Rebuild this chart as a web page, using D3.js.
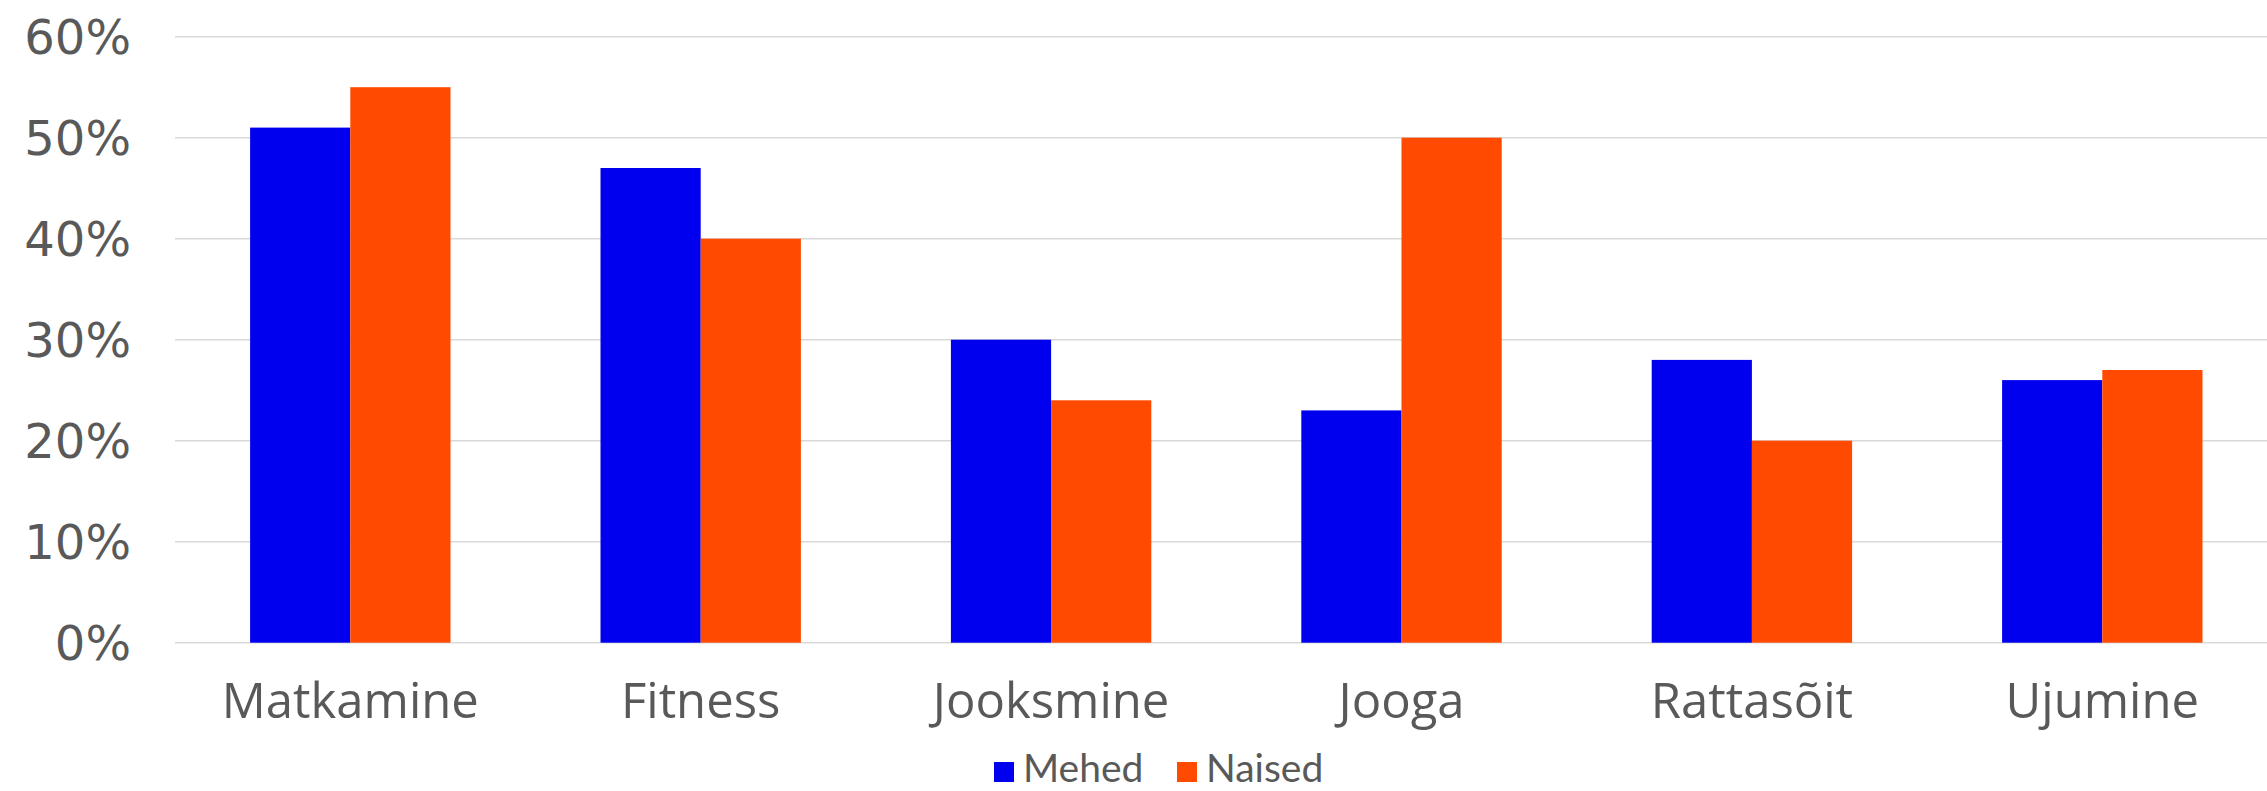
<!DOCTYPE html>
<html><head><meta charset="utf-8">
<script src="https://cdn.jsdelivr.net/npm/d3@7"></script>
<style>html,body{margin:0;padding:0;background:#fff;}svg{display:block;}</style>
</head><body>
<script>
const categories = ["Matkamine","Fitness","Jooksmine","Jooga","Rattasõit","Ujumine"];
const seriesNames = ["Mehed","Naised"];
const mehed = [51,47,30,23,28,26];
const naised = [55,40,24,50,20,27];
const yTicks = [0,10,20,30,40,50,60];
const colors = ["#0000EE","#FF4A00"];

const W = 2267, H = 791;
const svg = d3.select("body").append("svg").attr("width",W).attr("height",H);
const left = 175.1, step = 350.4;
const x = d3.scaleBand().domain(categories).range([left, left + step*categories.length]).paddingInner(0).paddingOuter(0);
const y = d3.scaleLinear().domain([0,60]).range([642.7,36.7]);
const inner = d3.scaleBand().domain(seriesNames).range([0,200.4]);

// grid
svg.append("g").selectAll("line").data(yTicks).join("line")
  .attr("x1",left).attr("x2",W+20)
  .attr("y1",d=>y(d)).attr("y2",d=>y(d))
  .attr("stroke","#d9d9d9").attr("stroke-width",1.5);

// y labels
const yAxis = d3.axisLeft(y).tickValues(yTicks).tickFormat(d=>d+"%").tickSize(0).tickPadding(0);
const ya = svg.append("g").attr("transform","translate(131,0)").call(yAxis);
ya.select(".domain").remove();
ya.selectAll("text").attr("font-family","'DejaVu Sans', sans-serif").attr("font-size",48).attr("fill","#595959").attr("dy","0.36em");

const data = [mehed, naised];
const groups = svg.append("g").selectAll("g").data(categories).join("g")
  .attr("transform",d=>`translate(${x(d)+x.bandwidth()/2-100.2},0)`);
groups.selectAll("rect").data((c,i)=>seriesNames.map((s,j)=>({s,v:data[j][i],j})))
  .join("rect")
  .attr("x",d=>inner(d.s)).attr("width",inner.bandwidth())
  .attr("y",d=>y(d.v)).attr("height",d=>y(0)-y(d.v))
  .attr("fill",d=>colors[d.j]);

// x labels
const xAxis = d3.axisBottom(x).tickSize(0).tickPadding(0);
const xa = svg.append("g").attr("transform","translate(0,718)").call(xAxis);
xa.select(".domain").remove();
xa.selectAll("text").attr("font-family","'Open Sans', sans-serif").attr("font-size",49).attr("fill","#595959").attr("dy",0);

// legend
const legendX = [994, 1177];
const lg = svg.append("g").selectAll("g").data(seriesNames).join("g")
  .attr("transform",(d,i)=>`translate(${legendX[i]},762)`);
lg.append("rect").attr("width",20).attr("height",20).attr("fill",(d,i)=>colors[i]);
lg.append("text").attr("x",29).attr("y",20).text(d=>d)
  .attr("font-family","Lato, sans-serif").attr("font-size",39).attr("fill","#595959");
</script>
</body></html>
